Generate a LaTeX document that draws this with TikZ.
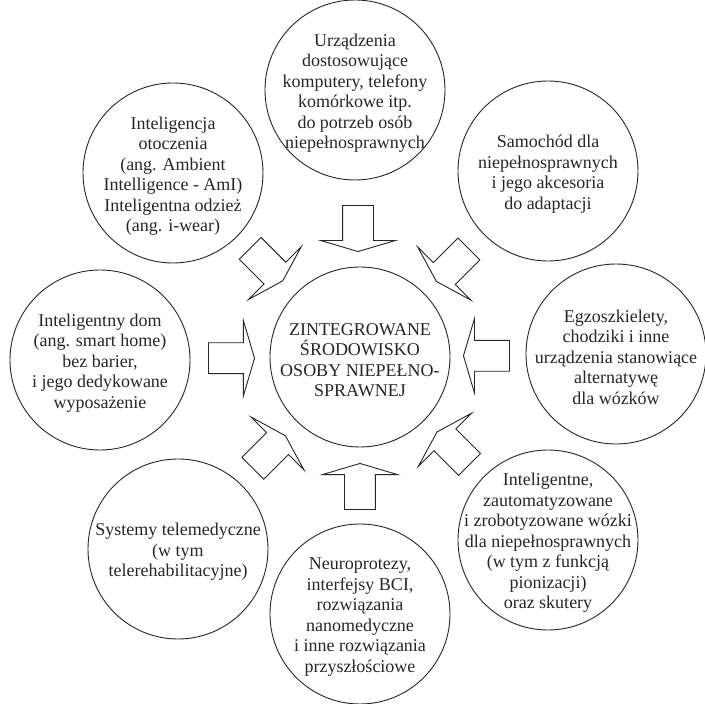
\documentclass[tikz,border=0pt]{standalone}
\usepackage{fontspec}
\setmainfont{Liberation Serif}
\usetikzlibrary{calc, shapes.arrows}
\tikzset{>=latex,
  bubble/.style={circle, draw=black!85, line width=0.9pt, minimum size=180pt, inner sep=0pt},
  bubbletext/.style={align=center, text=black!85, font=\fontsize{18}{20.5}\selectfont, yshift=-3pt},
  inarrow/.style={single arrow, draw=black!85, fill=white, line width=0.9pt, inner xsep=0pt, inner ysep=15pt,
    minimum height=46pt, single arrow head extend=22pt, single arrow tip angle=147, anchor=tip}}

\begin{document}
\begin{tikzpicture}[x=1pt,y=1pt]
\useasboundingbox (-360,-347) rectangle (345,357);
\node[bubble] (hub) at (0,0) {};
\node[bubbletext] (hub-t) at (hub) {ZINTEGROWANE\\ŚRODOWISKO\\OSOBY NIEPEŁNO-\\SPRAWNEJ};

\node[bubble] (top) at (-5,267) {};
\node[bubbletext] (top-t) at (top) {Urządzenia\\dostosowujące\\komputery, telefony\\komórkowe itp.\\do potrzeb osób\\niepełnosprawnych};
\node[bubble] (topright) at (188,186) {};
\node[bubbletext] (topright-t) at (topright) {Samochód dla\\niepełnosprawnych\\i jego akcesoria\\do adaptacji};
\node[bubble] (right) at (256,3) {};
\node[bubbletext] (right-t) at (right) {Egzoszkielety,\\chodziki i inne\\urządzenia stanowiące\\alternatywę\\dla wózków};
\node[bubble] (botright) at (188,-183) {};
\node[bubbletext] (botright-t) at (botright) {Inteligentne,\\zautomatyzowane\\i zrobotyzowane wózki\\dla niepełnosprawnych\\(w tym z funkcją\\pionizacji)\\oraz skutery};
\node[bubble] (bottom) at (0,-257) {};
\node[bubbletext] (bottom-t) at (bottom) {Neuroprotezy,\\interfejsy BCI,\\rozwiązania\\nanomedyczne\\i inne rozwiązania\\przyszłościowe};
\node[bubble] (botleft) at (-182,-192) {};
\node[bubbletext] (botleft-t) at (botleft) {Systemy telemedyczne\\(w tym\\telerehabilitacyjne)};
\node[bubble] (left) at (-260,-3) {};
\node[bubbletext] (left-t) at (left) {Inteligentny dom\\(ang. smart home)\\bez barier,\\i jego dedykowane\\wyposażenie};
\node[bubble] (topleft) at (-187,184) {};
\node[bubbletext] (topleft-t) at (topleft) {Inteligencja\\otoczenia\\(ang. Ambient\\Intelligence - AmI)\\Inteligentna odzież\\(ang. i-wear)};

% block arrows pointing at the hub
\node[inarrow, rotate=-90] (a-top) at ($(hub)!105pt!(top)$) {};
\node[inarrow, rotate=-135] (a-topright) at ($(hub)!107pt!(topright)$) {};
\node[inarrow, rotate=180] (a-right) at ($(hub)!103pt!(right)$) {};
\node[inarrow, rotate=135] (a-botright) at ($(hub)!107pt!(botright)$) {};
\node[inarrow, rotate=90] (a-bottom) at ($(hub)!106pt!(bottom)$) {};
\node[inarrow, rotate=45] (a-botleft) at ($(hub)!108pt!(botleft)$) {};
\node[inarrow, rotate=0] (a-left) at ($(hub)!105pt!(left)$) {};
\node[inarrow, rotate=-45] (a-topleft) at ($(hub)!108pt!(topleft)$) {};
\end{tikzpicture}
\end{document}
